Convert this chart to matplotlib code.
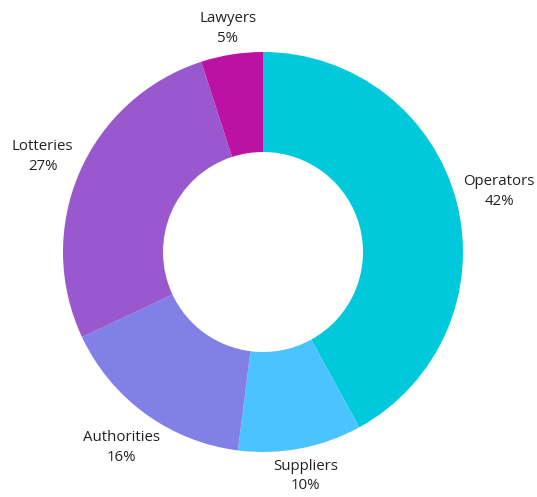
import matplotlib
matplotlib.use("Agg")
import matplotlib.pyplot as plt
import numpy as np

categories = ["Operators", "Suppliers", "Authorities", "Lotteries", "Lawyers"]
values = [42, 10, 16, 27, 5]
colors = ["#00C9DC", "#4BC3FF", "#8080E6", "#9A58CE", "#BB12A4"]

plt.rcParams['font.family'] = ['Open Sans', 'DejaVu Sans']

W, H = 537, 497
fig = plt.figure(figsize=(W / 100, H / 100), dpi=100)
R = 200.0
cx, cy = 263.0, 252.0
a = 1.3
size = 2 * a * R
ax = fig.add_axes([(cx - size / 2) / W, (H - cy - size / 2) / H, size / W, size / H])

wedges, _ = ax.pie(values, colors=colors, startangle=90, counterclock=False,
                   radius=1.0, wedgeprops=dict(width=0.5, linewidth=0))

ax.set_xlim(-a, a)
ax.set_ylim(-a, a)
ax.set_aspect("equal")
ax.axis("off")

renderer = fig.canvas.get_renderer()
total = sum(values)
cum = 0
gap = 5.0  # px beyond outer radius
for cat, v in zip(categories, values):
    mid = 90 - (cum + v / 2) / total * 360
    cum += v
    ang = np.deg2rad(mid)
    ux, uy = np.cos(ang), np.sin(ang)
    t = ax.text(0, 0, f"{cat}\n{v}%", ha="center", va="center",
                fontsize=10.8, color="#222222", linespacing=1.4)
    bb = t.get_window_extent(renderer)
    ext = abs(ux) * bb.width / 2 + abs(uy) * bb.height / 2
    d = (R + gap + ext) / R
    t.set_position((d * ux, d * uy))

fig.savefig("out.png", dpi=100)
